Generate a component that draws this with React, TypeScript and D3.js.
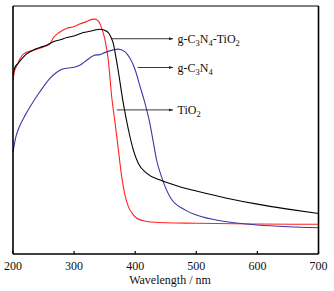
import React from "react";
import * as d3 from "d3";

const xTicks = [200, 300, 400, 500, 600, 700];

const blackNm = [200, 203, 208, 214, 222, 235, 244, 255, 266, 280, 288, 300, 315, 328, 336, 342, 349, 356, 360, 364, 368, 372, 380.5, 389, 397, 405, 419, 441, 473, 500, 550, 600, 650, 700];
const blackAbs = [0.722, 0.752, 0.768, 0.786, 0.806, 0.825, 0.833, 0.842, 0.856, 0.866, 0.873, 0.879, 0.893, 0.899, 0.904, 0.906, 0.903, 0.893, 0.876, 0.850, 0.800, 0.742, 0.608, 0.500, 0.419, 0.366, 0.325, 0.298, 0.271, 0.254, 0.225, 0.201, 0.181, 0.163];

const redNm = [200, 203, 206, 211, 217, 235, 250, 260, 266, 275, 288, 300, 310, 320, 329, 334, 338, 341, 345, 350, 356, 361.5, 367, 372, 378, 383, 389, 396, 402, 412, 421, 450, 500, 600, 700];
const redAbs = [0.702, 0.742, 0.758, 0.785, 0.806, 0.823, 0.835, 0.846, 0.872, 0.892, 0.910, 0.917, 0.928, 0.937, 0.946, 0.947, 0.943, 0.935, 0.912, 0.870, 0.782, 0.635, 0.530, 0.430, 0.310, 0.240, 0.190, 0.161, 0.145, 0.135, 0.130, 0.126, 0.124, 0.121, 0.120];

const blueNm = [200, 205, 211, 220, 230, 240, 250, 260, 270, 280, 290, 300, 310, 320, 334, 342, 350, 364, 372, 383, 391.5, 400, 408, 416, 424, 430, 435, 443, 458, 482, 500, 550, 600, 650, 700];
const blueAbs = [0.411, 0.475, 0.516, 0.560, 0.602, 0.640, 0.675, 0.707, 0.730, 0.745, 0.750, 0.753, 0.762, 0.780, 0.802, 0.804, 0.812, 0.823, 0.826, 0.816, 0.789, 0.742, 0.675, 0.608, 0.527, 0.446, 0.379, 0.312, 0.226, 0.177, 0.157, 0.130, 0.117, 0.110, 0.106];

const labelNm = [362, 404, 370];
const labelAbs = [0.868, 0.752, 0.581];

type Pt = [number, number];
const zip = (a: number[], b: number[]): Pt[] => a.map((v, i) => [v, b[i]]);

const series = [
  { name: "TiO2", color: "#ff2222", pts: zip(redNm, redAbs) },
  { name: "g-C3N4", color: "#3a3aa6", pts: zip(blueNm, blueAbs) },
  { name: "g-C3N4-TiO2", color: "#000000", pts: zip(blackNm, blackAbs) },
];

const W = 334;
const H = 291;
const L = 13;
const R = 318.5;
const T = 6;
const B = 254;

export default function App() {
  const x = d3.scaleLinear().domain([200, 700]).range([L, R]);
  const y = d3.scaleLinear().domain([0, 1]).range([B, T]);
  const line = d3
    .line<Pt>()
    .x((d) => x(d[0]))
    .y((d) => y(d[1]))
    .curve(d3.curveMonotoneX);

  const font = "'Liberation Serif', 'Times New Roman', serif";
  const arrowEnd = 173;
  const textX = 177.5;
  const sub = { fontSize: 8.5, baselineShift: "-3px" } as React.CSSProperties;

  const labels = [
    <>
      g-C<tspan style={sub}>3</tspan>N<tspan style={sub}>4</tspan>-TiO<tspan style={sub}>2</tspan>
    </>,
    <>
      g-C<tspan style={sub}>3</tspan>N<tspan style={sub}>4</tspan>
    </>,
    <>
      TiO<tspan style={sub}>2</tspan>
    </>,
  ];

  return (
    <svg
      width={W}
      height={H}
      style={{ position: "absolute", left: 0, top: 0, background: "#fff" }}
      fontFamily={font}
    >
      <defs>
        <marker id="ah" viewBox="0 0 10 10" refX="10" refY="5" markerWidth="5" markerHeight="5" orient="auto">
          <path d="M0,1.5 L10,5 L0,8.5 Z" fill="#222" />
        </marker>
      </defs>
      {series.map((s) => (
        <path key={s.name} d={line(s.pts) || ""} fill="none" stroke={s.color} strokeWidth={1.1} />
      ))}
      {labelNm.map((nm, i) => (
        <g key={i}>
          <line
            x1={x(nm)}
            x2={arrowEnd}
            y1={y(labelAbs[i])}
            y2={y(labelAbs[i])}
            stroke="#222"
            strokeWidth={0.9}
            markerEnd="url(#ah)"
          />
          <text x={textX} y={y(labelAbs[i]) + 4} fontSize={12} fill="#111">
            {labels[i]}
          </text>
        </g>
      ))}
      <line x1={L} x2={R} y1={T} y2={T} stroke="#000" strokeWidth={1} />
      <line x1={L} x2={R} y1={B} y2={B} stroke="#000" strokeWidth={1.6} />
      <line x1={L} x2={L} y1={T} y2={B} stroke="#000" strokeWidth={1.6} />
      <line x1={R} x2={R} y1={T} y2={B} stroke="#000" strokeWidth={1.6} />
      {xTicks.map((t) => (
        <g key={t}>
          <line x1={x(t)} x2={x(t)} y1={B} y2={B - 3} stroke="#000" strokeWidth={1.2} />
          <text x={x(t)} y={270} textAnchor="middle" fontSize={12} fill="#111">
            {t}
          </text>
        </g>
      ))}
      <text x={170} y={284} textAnchor="middle" fontSize={12} fill="#111">
        Wavelength / nm
      </text>
    </svg>
  );
}
